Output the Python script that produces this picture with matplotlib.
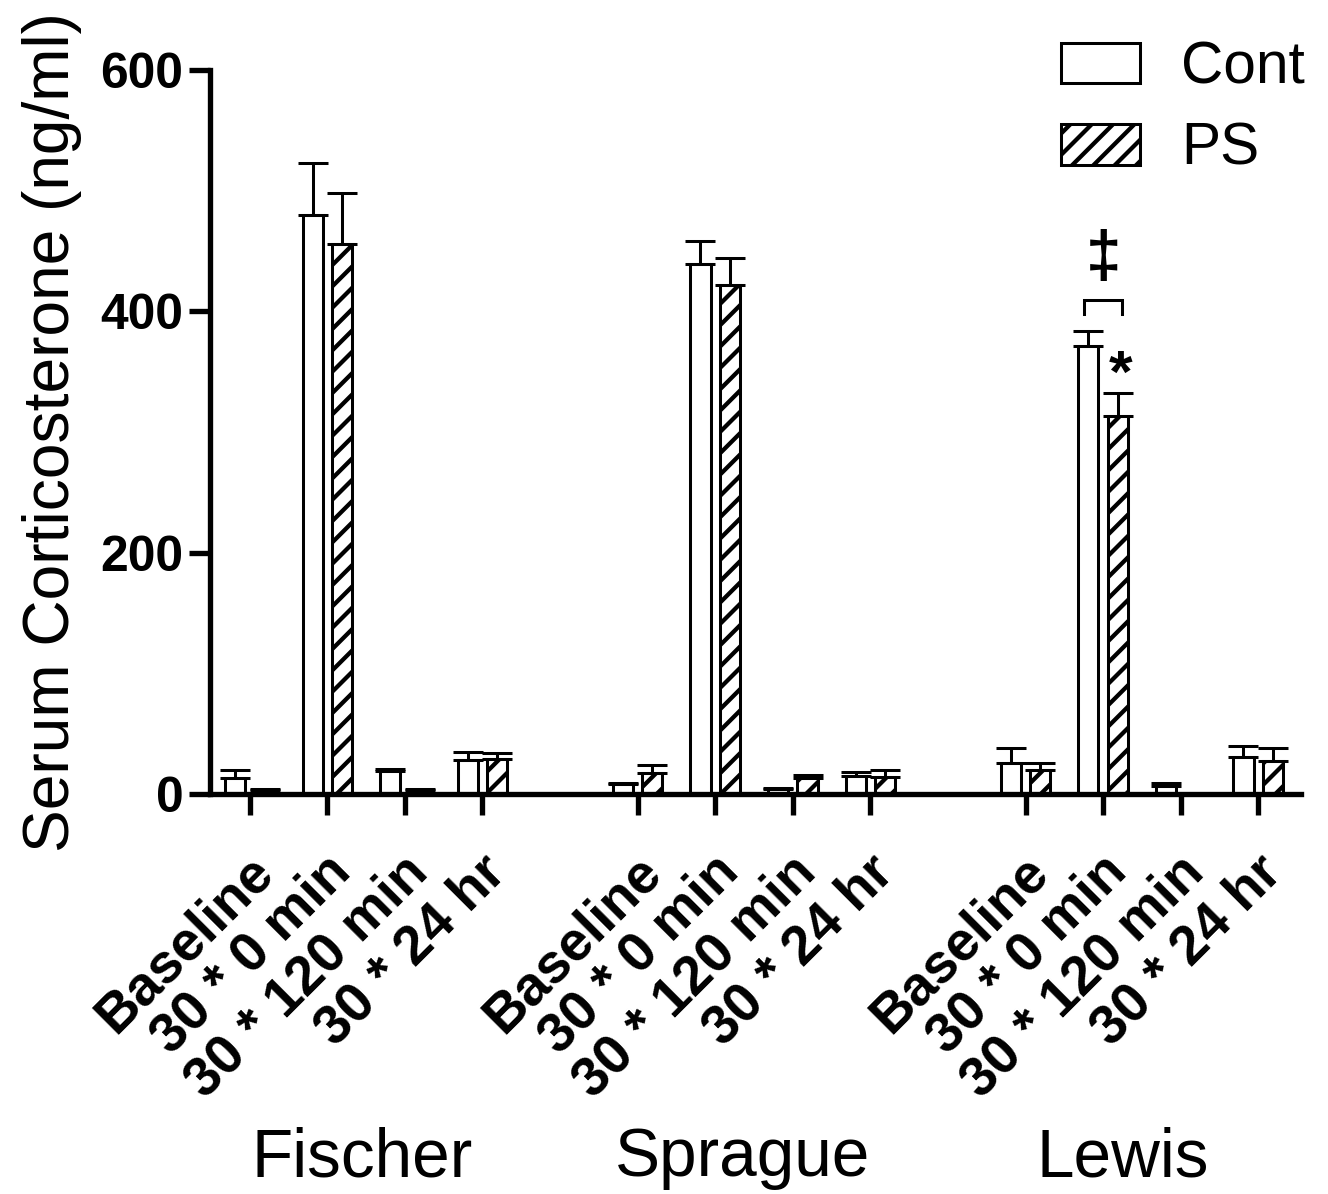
import matplotlib.pyplot as plt
from matplotlib.patches import Patch
from matplotlib.transforms import ScaledTranslation
import numpy as np

plt.rcParams['font.family'] = ['Liberation Sans', 'DejaVu Sans']
plt.rcParams['hatch.linewidth'] = 2.4

# data
groups = ['Fischer', 'Sprague', 'Lewis']
conditions = ['Baseline', '30 * 0 min', '30 * 120 min', '30 * 24 hr']
cont_mean = [13, 480, 19, 28, 8, 439, 4, 15, 26, 371, 7, 31]
cont_err = [7, 43, 2, 7, 1, 19, 1, 3, 12, 13, 2, 9]
ps_mean = [3, 456, 3, 29, 17, 422, 13, 14, 20, 313, np.nan, 27]
ps_err = [1, 42, 1, 5, 7, 22, 3, 6, 6, 19, np.nan, 11]

# x positions: 4 conditions per group, one empty slot between groups
pos = np.array([g * 5 + i for g in range(len(groups)) for i in range(len(conditions))])
labels = conditions * len(groups)

fig = plt.figure(figsize=(10.375, 9.328125), dpi=128)
ax = fig.add_axes([0.158, 0.335, 0.822, 0.6065])

w = 0.26
off = 0.19
lw = 1.7
cont_mean = np.array(cont_mean, float)
ps_mean = np.array(ps_mean, float)
cont_err = np.array(cont_err, float)
ps_err = np.array(ps_err, float)

ekw = dict(elinewidth=lw, capthick=lw, capsize=8.5, ecolor='black')
ax.bar(pos - off, cont_mean, w, color='white', edgecolor='black', linewidth=lw,
       yerr=[np.zeros_like(cont_err), cont_err], error_kw=ekw, clip_on=False)
ax.bar(pos + off, ps_mean, w, color='white', edgecolor='black', linewidth=lw,
       hatch='//', yerr=[np.zeros_like(ps_err), ps_err], error_kw=ekw, clip_on=False)

ax.set_xlim(-0.515, 13.557)
ax.set_ylim(0, 600)
ax.set_yticks([0, 200, 400, 600])
ax.tick_params(axis='y', length=12, width=3, labelsize=28, pad=3)
ax.tick_params(axis='x', length=12, width=3, pad=17)
for t in ax.get_yticklabels():
    t.set_fontweight('bold')
ax.set_xticks(pos)
ax.set_xticklabels(labels, rotation=45, ha='right', va='top',
                   rotation_mode='anchor', fontsize=31, fontweight='bold')
shift = ScaledTranslation(-3 / 128, 0, fig.dpi_scale_trans)
for t in ax.get_xticklabels():
    t.set_transform(t.get_transform() + shift)

for s in ['top', 'right']:
    ax.spines[s].set_visible(False)
for s in ['left', 'bottom']:
    ax.spines[s].set_linewidth(3)

ax.set_ylabel('Serum Corticosterone (ng/ml)', fontsize=36, labelpad=10)

# group names under the tick labels
for g, name in enumerate(groups):
    gx = pos[g * 4:(g + 1) * 4].mean() - 0.1 * g - 0.05
    ax.text(gx, -0.503, name, transform=ax.get_xaxis_transform(),
            ha='center', va='center', fontsize=38)

# significance marks for Lewis 30*0 min
i = 9
x1, x2 = pos[i] - off - 0.06, pos[i] + off + 0.06
ax.plot([x1, x1, x2, x2], [398, 409, 409, 398], color='black', lw=lw,
        solid_joinstyle='miter')
ax.text(pos[i], 443, '\u2021', ha='center', va='center', fontsize=36,
        fontweight='bold')
ax.text(pos[i] + off + 0.04, 346, '*', ha='center', va='center', fontsize=34,
        fontweight='bold')

handles = [Patch(facecolor='white', edgecolor='black', linewidth=lw, label='Cont'),
           Patch(facecolor='white', edgecolor='black', linewidth=lw, hatch='//', label='PS')]
ax.legend(handles=handles, loc='upper left', bbox_to_anchor=(0.799, 0.966),
          bbox_transform=fig.transFigure, frameon=False, fontsize=33,
          handlelength=1.35, handleheight=0.68, handletextpad=0.7, labelspacing=0.45,
          borderpad=0, borderaxespad=0)

fig.savefig('out.png', dpi=128)
